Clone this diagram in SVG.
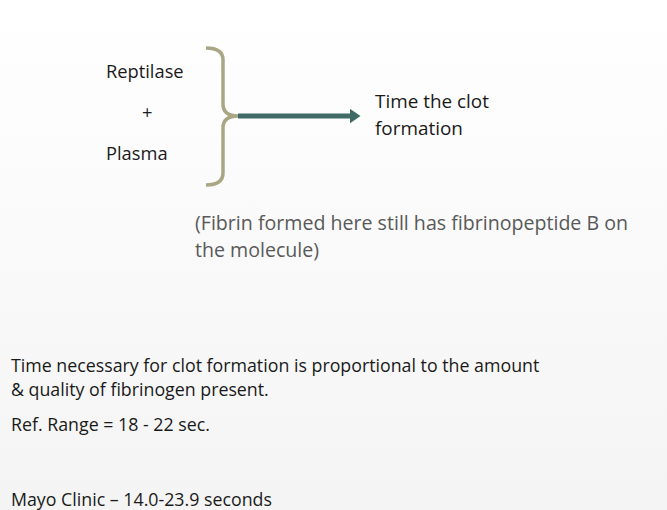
<svg xmlns="http://www.w3.org/2000/svg" width="667" height="510" viewBox="0 0 667 510">
<defs>
<linearGradient id="bg" x1="0" y1="0" x2="0" y2="1"><stop offset="0" stop-color="#ffffff"/><stop offset="1" stop-color="#f4f4f4"/></linearGradient>
<marker id="ah" markerWidth="3" markerHeight="3" refX="0.5" refY="1.5" orient="auto" markerUnits="strokeWidth"><path d="M0,0 L2.2,1.5 L0,3 Z" fill="#3f6a66"/></marker>
<style>text{font-family:"Open Sans","Liberation Sans",sans-serif;fill:#1a1a1a}.t{font-size:18.9px}.n{font-size:19.6px;fill:#595959}.s{font-size:17.8px}.l{font-size:18.3px}</style>
</defs>
<rect width="667" height="510" fill="url(#bg)"/>
<g id="inputs"><text class="l" x="106" y="78">Reptilase</text><text class="l" x="142" y="119">+</text><text class="l" x="106" y="160">Plasma</text></g>
<g id="brace"><path d="M206,48 Q223,48 223,60 L223,104 Q223,116 238,116 Q223,116 223,128 L223,173 Q223,185 206,185" fill="none" stroke="#a9a683" stroke-width="3.5"/></g>
<g id="connectors"><line x1="238" y1="116" x2="352" y2="116" stroke="#3f6a66" stroke-width="5" marker-end="url(#ah)"/></g>
<g id="result"><text class="t" x="375" y="108">Time the clot</text><text class="t" x="375" y="135">formation</text></g>
<g id="note"><text class="n" x="195" y="230">(Fibrin formed here still has fibrinopeptide B on</text><text class="n" x="195" y="257">the molecule)</text></g>
<g id="footer"><text class="s" x="11" y="372">Time necessary for clot formation is proportional to the amount</text><text class="s" x="11" y="396">&amp; quality of fibrinogen present.</text><text class="s" x="11" y="431">Ref. Range = 18 - 22 sec.</text><text class="s" x="11" y="506">Mayo Clinic – 14.0-23.9 seconds</text></g>
</svg>
